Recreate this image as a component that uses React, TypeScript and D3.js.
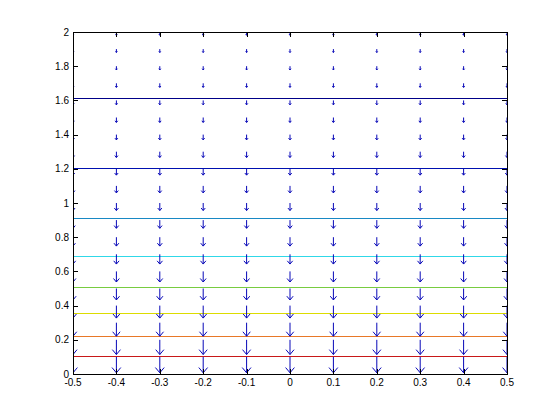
import React from "react";
import * as d3 from "d3";

// Quiver grid (x, y) and downward vector magnitude per row (read from the arrows)
const xGrid = [-0.5, -0.4, -0.3, -0.2, -0.1, 0, 0.1, 0.2, 0.3, 0.4, 0.5];
const yGrid = [0, 0.1, 0.2, 0.3, 0.4, 0.5, 0.6, 0.7, 0.8, 0.9, 1.0, 1.1, 1.2, 1.3, 1.4, 1.5, 1.6, 1.7, 1.8, 1.9, 2.0];
const vMagnitude = [1.0, 0.93, 0.86, 0.79, 0.73, 0.67, 0.62, 0.57, 0.52, 0.48, 0.44, 0.41, 0.37, 0.34, 0.31, 0.29, 0.26, 0.24, 0.22, 0.2, 0.19];

// Contour lines (horizontal, at these y values) with their colours
const contourY = [0.106, 0.223, 0.358, 0.51, 0.692, 0.915, 1.202, 1.613];
const contourColors = ["#c81818", "#e87828", "#dcdc00", "#78cc40", "#30d8e8", "#1888c4", "#0010b0", "#000088"];

const xTicks = [-0.5, -0.4, -0.3, -0.2, -0.1, 0, 0.1, 0.2, 0.3, 0.4, 0.5];
const yTicks = [0, 0.2, 0.4, 0.6, 0.8, 1, 1.2, 1.4, 1.6, 1.8, 2];

const W = 560, H = 420;
const L = 73, R = 507, T = 32, B = 374;

export default function App() {
  const x = d3.scaleLinear().domain([-0.5, 0.5]).range([L, R]);
  const y = d3.scaleLinear().domain([0, 2]).range([B, T]);

  const dy = 0.1;
  const maxLen = d3.max(vMagnitude.map((m) => m / dy)) as number;
  const scale = 1.0 / maxLen;
  const alpha = 0.33, beta = 0.33;

  const arrows: string[] = [];
  yGrid.forEach((yv, i) => {
    const v = -vMagnitude[i] * scale;
    const u = 0;
    xGrid.forEach((xv) => {
      const tx = xv + u, ty = yv + v;
      const shaft = `M${x(xv)},${y(yv)}L${x(tx)},${y(ty)}`;
      const h1x = tx - alpha * (u + beta * (v + 1e-9));
      const h1y = ty - alpha * (v - beta * (u + 1e-9));
      const h2x = tx - alpha * (u - beta * (v + 1e-9));
      const h2y = ty - alpha * (v + beta * (u + 1e-9));
      const head = `M${x(h1x)},${y(h1y)}L${x(tx)},${y(ty)}L${x(h2x)},${y(h2y)}`;
      arrows.push(shaft + head);
    });
  });

  const font = "Liberation Sans, Arial, Helvetica, sans-serif";
  const tk = 5;

  return (
    <svg width={W} height={H} style={{ position: "absolute", left: 0, top: 0, background: "#fff" }}>
      <defs>
        <clipPath id="plot">
          <rect x={L} y={T} width={R - L + 1} height={B - T + 1} />
        </clipPath>
      </defs>
      <rect x={0} y={0} width={W} height={H} fill="#fff" />
      <g clipPath="url(#plot)">
        {contourY.map((cy, i) => (
          <line key={"c" + i} x1={x(-0.5)} x2={x(0.5)} y1={Math.round(y(cy)) + 0.5} y2={Math.round(y(cy)) + 0.5}
            stroke={contourColors[i]} strokeWidth={1} shapeRendering="crispEdges" />
        ))}
        {arrows.map((d, i) => (
          <path key={"a" + i} d={d} fill="none" stroke="#0808b8" strokeWidth={1} />
        ))}
      </g>
      {/* axes box */}
      <rect x={L + 0.5} y={T + 0.5} width={R - L} height={B - T} fill="none" stroke="#000" strokeWidth={1} shapeRendering="crispEdges" />
      {xTicks.map((t, i) => {
        const px = Math.round(x(t)) + 0.5;
        return (
          <g key={"xt" + i}>
            <line x1={px} x2={px} y1={B} y2={B - tk} stroke="#000" shapeRendering="crispEdges" />
            <line x1={px} x2={px} y1={T} y2={T + tk} stroke="#000" shapeRendering="crispEdges" />
            <text x={x(t)} y={386} textAnchor="middle" fontFamily={font} fontSize={10} fill="#000">{String(t)}</text>
          </g>
        );
      })}
      {yTicks.map((t, i) => {
        const py = Math.round(y(t)) + 0.5;
        return (
          <g key={"yt" + i}>
            <line x1={L} x2={L + tk} y1={py} y2={py} stroke="#000" shapeRendering="crispEdges" />
            <line x1={R} x2={R - tk} y1={py} y2={py} stroke="#000" shapeRendering="crispEdges" />
            <text x={69} y={y(t) + 3.5} textAnchor="end" fontFamily={font} fontSize={10} fill="#000">{String(t)}</text>
          </g>
        );
      })}
    </svg>
  );
}
